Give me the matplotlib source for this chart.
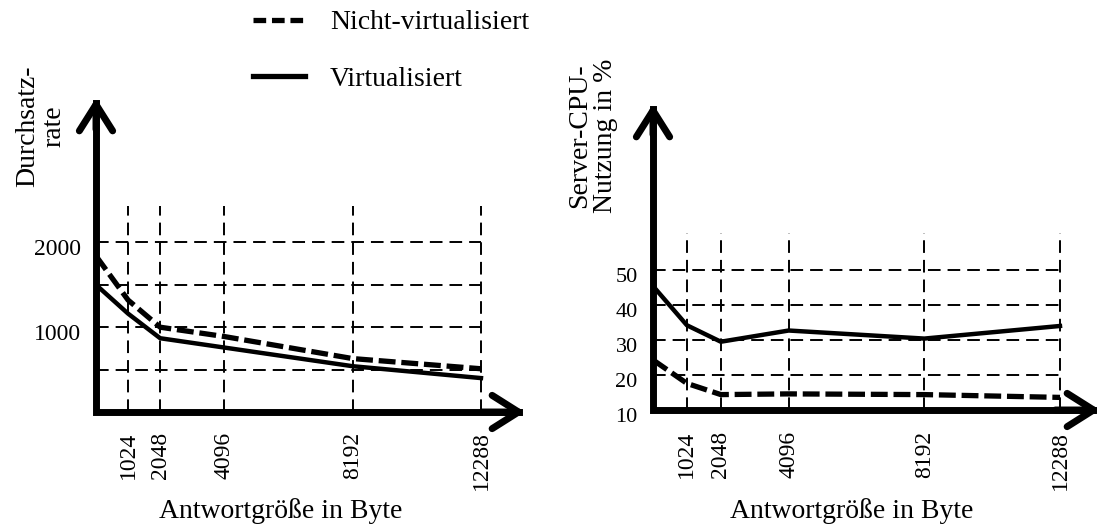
import matplotlib.pyplot as plt
from matplotlib.lines import Line2D
from matplotlib.transforms import ScaledTranslation

plt.rcParams['font.family'] = ['Liberation Serif', 'DejaVu Serif']

# Antwortgröße in Byte (0 = start at the axis)
sizes = [0, 1024, 2048, 4096, 8192, 12288]
size_ticks = [1024, 2048, 4096, 8192, 12288]

# left panel: Durchsatzrate
thr_nicht = [1840, 1320, 1000, 890, 630, 510]
thr_virt = [1500, 1160, 870, 760, 540, 400]
thr_grid = [500, 1000, 1500, 2000]
thr_ticks = [1000, 2000]

# right panel: Server-CPU-Nutzung in %
cpu_nicht = [24.3, 17.6, 14.4, 14.6, 14.4, 13.6]
cpu_virt = [45.4, 34.2, 29.5, 32.7, 30.4, 34.0]
cpu_grid = [20, 30, 40, 50]
cpu_ticks = [10, 20, 30, 40, 50]

W, H = 1102, 527
fig = plt.figure(figsize=(W / 100, H / 100), dpi=100)

grid_kw = dict(color='black', lw=1.4, linestyles=(0, (6.5, 3.6)))


def panel(rect, xlim, ylim, nicht, virt, grid_y, ticks_y, vtop, tsize, tpad):
    ax = fig.add_axes(rect)
    ax.set_xlim(*xlim)
    ax.set_ylim(*ylim)
    for s in ax.spines.values():
        s.set_visible(False)

    # dashed grid
    ax.vlines(size_ticks, ylim[0], vtop, **grid_kw)
    ax.hlines(grid_y, 0, size_ticks[-1], **grid_kw)

    ax.plot(sizes, nicht, color='black', lw=3.8, dashes=(3.2, 1.1),
            solid_capstyle='butt', dash_capstyle='butt')
    ax.plot(sizes, virt, color='black', lw=3.2)

    # axes with arrow heads
    ax.plot([0, 0, 0.985], [0.985, 0, 0], color='black', lw=5,
            transform=ax.transAxes, solid_joinstyle='miter', clip_on=False)
    head = dict(arrowstyle='->,head_length=0.95,head_width=0.6', lw=5,
                mutation_scale=20, color='black', shrinkA=0, shrinkB=0,
                capstyle='round', joinstyle='round')
    ax.annotate('', xy=(1, 0), xytext=(0.9, 0), xycoords='axes fraction',
                textcoords='axes fraction', arrowprops=head)
    ax.annotate('', xy=(0, 1), xytext=(0, 0.9), xycoords='axes fraction',
                textcoords='axes fraction', arrowprops=head)

    ax.set_xticks(size_ticks)
    ax.set_xticklabels([str(s) for s in size_ticks], rotation=90)
    ax.set_yticks(ticks_y)
    ax.tick_params(axis='both', length=0)
    ax.tick_params(axis='x', labelsize=17, pad=tpad)
    ax.tick_params(axis='y', labelsize=tsize, pad=11)
    off = ScaledTranslation(0, -0.05, fig.dpi_scale_trans)
    for lab in ax.get_yticklabels():
        lab.set_transform(lab.get_transform() + off)
    return ax


ax1 = panel([96 / W, 115 / H, 429 / W, 314 / H], (0, 13693), (0, 3703),
            thr_nicht, thr_virt, thr_grid, thr_ticks, 2427, 17, 14)
ax2 = panel([653 / W, 117 / H, 447 / W, 306 / H], (0, 13496), (10, 97.4),
            cpu_nicht, cpu_virt, cpu_grid, cpu_ticks, 60.5, 16, 15)

fig.text(281 / W, 1 - 511 / H, 'Antwortgröße in Byte', fontsize=20,
         ha='center', va='center')
fig.text(851.5 / W, 1 - 511 / H, 'Antwortgröße in Byte', fontsize=20,
         ha='center', va='center')
fig.text(41 / W, 1 - 126 / H, 'Durchsatz-\nrate', fontsize=20, rotation=90,
         ha='center', va='center', multialignment='center', linespacing=1.05)
fig.text(592.5 / W, 1 - 136 / H, 'Server-CPU-\nNutzung in %', fontsize=20,
         rotation=90, ha='center', va='center', multialignment='center',
         linespacing=1.05)

handles = [Line2D([0], [0], color='black', lw=3.8, dashes=(2.4, 1.1)),
           Line2D([0], [0], color='black', lw=3.8)]
fig.legend(handles, ['Nicht-virtualisiert', 'Virtualisiert'], fontsize=20,
           frameon=False, loc='upper left', bbox_to_anchor=(253 / W, 1 - 10 / H),
           handlelength=1.87, handletextpad=0.9, labelspacing=1.12,
           borderpad=0, borderaxespad=0)

fig.savefig('out.png', dpi=100)
